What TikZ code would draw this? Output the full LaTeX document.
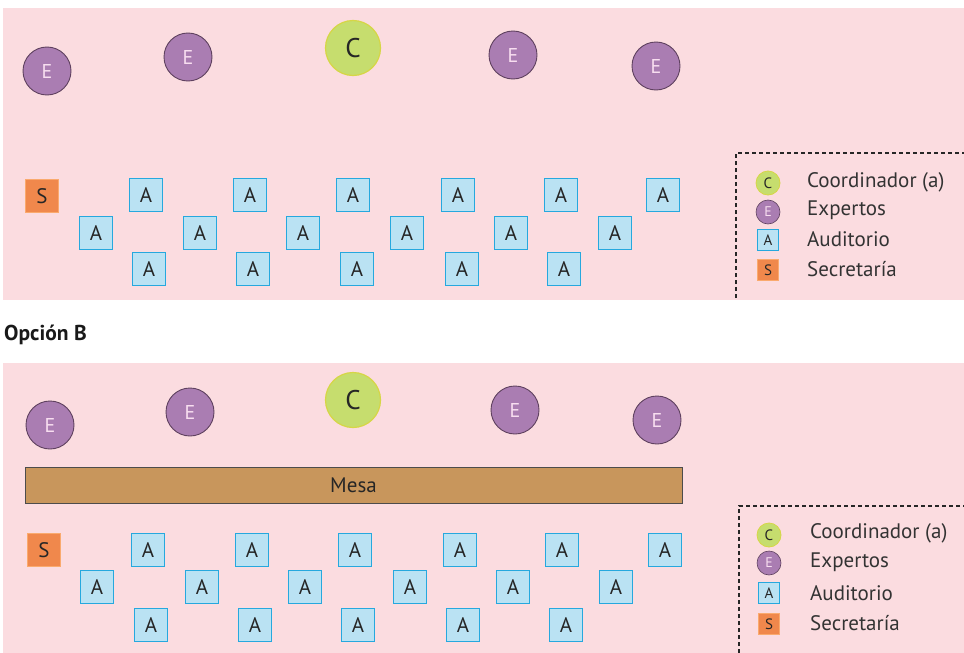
\documentclass[tikz,border=0pt]{standalone}
\usepackage{fontspec}
\setmainfont{PT Sans}
\begin{document}
\begin{tikzpicture}[x=1pt,y=-1pt,
  expert/.style={circle, fill=purp, draw=purpdark, line width=0.9pt, minimum size=48pt, inner sep=0pt, text=epink, font=\fontsize{20}{20}\selectfont},
  coord/.style={circle, fill=limeg, draw=limeb, line width=1.2pt, minimum size=55pt, inner sep=0pt, text=black!85, font=\fontsize{27}{27}\selectfont},
  aud/.style={rectangle, fill=lblue, draw=dblue, line width=1.4pt, minimum size=33pt, inner sep=0pt, text=black!85, font=\fontsize{21}{21}\selectfont},
  secr/.style={rectangle, fill=orng, draw=orngb, line width=1pt, minimum size=33pt, inner sep=0pt, text=black!85, font=\fontsize{21}{21}\selectfont},
  lcoord/.style={coord, minimum size=24pt, line width=0.8pt, font=\fontsize{15}{15}\selectfont},
  lexpert/.style={expert, minimum size=24pt, line width=0.6pt, font=\fontsize{14}{14}\selectfont},
  laud/.style={aud, minimum size=21pt, line width=1.1pt, font=\fontsize{15}{15}\selectfont},
  lsecr/.style={secr, minimum size=21pt, line width=0.6pt, font=\fontsize{15}{15}\selectfont},
  ltext/.style={anchor=west, text=black!80, font=\fontsize{21}{21}\selectfont, inner sep=0pt},
  legbox/.style={draw=black!85, line width=1.1pt, dash pattern=on 4pt off 3pt},
  mesa/.style={rectangle, fill=tan, draw=black!70, line width=1pt, minimum width=657pt, minimum height=36pt, inner sep=0pt, text=black!85, font=\fontsize{21}{21}\selectfont}
]
\definecolor{pinkbg}{RGB}{251,220,224}
\definecolor{purp}{RGB}{170,125,178}
\definecolor{purpdark}{RGB}{95,65,95}
\definecolor{epink}{RGB}{248,222,240}
\definecolor{limeg}{RGB}{198,221,110}
\definecolor{limeb}{RGB}{214,214,70}
\definecolor{lblue}{RGB}{186,226,243}
\definecolor{dblue}{RGB}{38,168,222}
\definecolor{orng}{RGB}{240,136,76}
\definecolor{orngb}{RGB}{250,170,110}
\definecolor{tan}{RGB}{200,150,92}

\useasboundingbox (0,0) rectangle (964,653);
\fill[white] (0,0) rectangle (964,653);

% ---------- Panel A ----------
\fill[pinkbg] (3,8) rectangle (964,300);
\node[expert] (ea1) at (47,71) {E};
\node[expert] (ea2) at (188,57) {E};
\node[coord]  (ca)  at (353,48) {C};
\node[expert] (ea3) at (513,55) {E};
\node[expert] (ea4) at (656,66) {E};

\node[secr] (sa) at (42,196) {S};
\foreach \x [count=\i] in {146,250,353,458,561,663}
  \node[aud] (aa1\i) at (\x,195) {A};
\foreach \x [count=\i] in {96,200,303,407,511,615}
  \node[aud] (aa2\i) at (\x,233) {A};
\foreach \x [count=\i] in {149,253,357,462,564}
  \node[aud] (aa3\i) at (\x,269) {A};

% legend A
\coordinate (lga1) at (736,298);
\coordinate (lga2) at (736,153);
\coordinate (lga3) at (964,153);
\draw[legbox] (lga1) -- (lga2) -- (lga3);
\node[lcoord]  (lca) at (768,183) {C};
\node[lexpert] (lea) at (768,212) {E};
\node[laud]    (laa) at (768,240) {A};
\node[lsecr]   (lsa) at (768,270) {S};
\node[ltext] (tca) at (807,182) {Coordinador (a)};
\node[ltext] (tea) at (807,210) {Expertos};
\node[ltext] (taa) at (807,239) {Auditorio};
\node[ltext] (tsa) at (807,269) {Secretaría};

% ---------- title B ----------
\node[anchor=west, inner sep=0pt, font=\fontsize{21.5}{21.5}\selectfont\bfseries, text=black!90] (titb) at (4,335) {Opción B};

% ---------- Panel B ----------
\fill[pinkbg] (3,363) rectangle (964,653);
\node[expert] (eb1) at (50,425) {E};
\node[expert] (eb2) at (190,412) {E};
\node[coord]  (cb)  at (353,400) {C};
\node[expert] (eb3) at (515,410) {E};
\node[expert] (eb4) at (657,420) {E};

\node[mesa] (mesa) at (353.5,485) {Mesa};

\node[secr] (sb) at (44,550) {S};
\foreach \x [count=\i] in {148,252,355,460,562,665}
  \node[aud] (ab1\i) at (\x,550) {A};
\foreach \x [count=\i] in {97,202,305,410,513,616}
  \node[aud] (ab2\i) at (\x,587) {A};
\foreach \x [count=\i] in {151,255,358,463,566}
  \node[aud] (ab3\i) at (\x,625) {A};

% legend B
\coordinate (lgb1) at (739,653);
\coordinate (lgb2) at (739,506);
\coordinate (lgb3) at (964,506);
\draw[legbox] (lgb1) -- (lgb2) -- (lgb3);
\node[lcoord]  (lcb) at (769,535) {C};
\node[lexpert] (leb) at (769,563) {E};
\node[laud]    (lab) at (769,593) {A};
\node[lsecr]   (lsb) at (769,624) {S};
\node[ltext] (tcb) at (810,533) {Coordinador (a)};
\node[ltext] (teb) at (810,562) {Expertos};
\node[ltext] (tab) at (810,593) {Auditorio};
\node[ltext] (tsb) at (810,623) {Secretaría};
\end{tikzpicture}
\end{document}
